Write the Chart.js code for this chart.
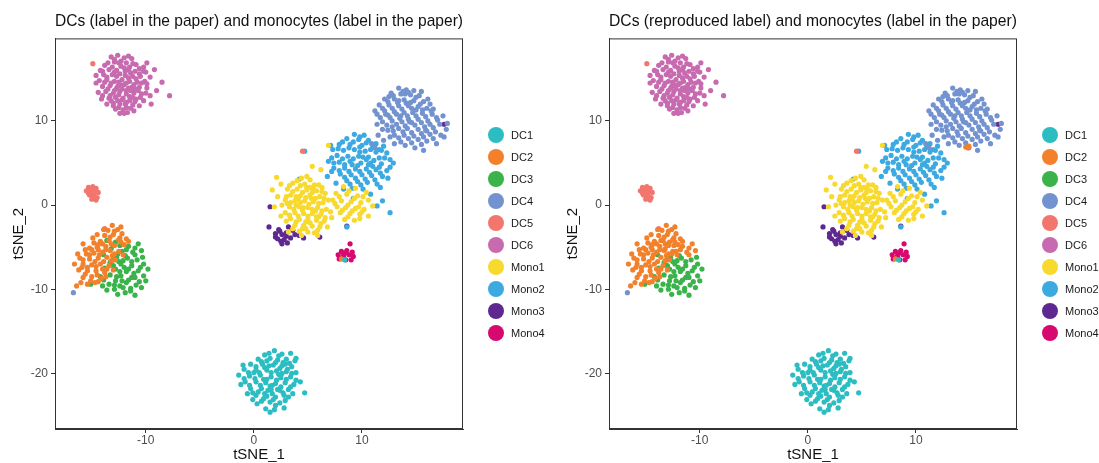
<!DOCTYPE html>
<html>
<head>
<meta charset="utf-8">
<script src="https://cdn.jsdelivr.net/npm/chart.js@4.4.1/dist/chart.umd.min.js"></script>
<style>
  body { margin: 0; background: #fff; }
  #wrap { position: relative; width: 1099px; height: 463px; overflow: hidden; }
  #leftBox { position: absolute; left: 0; top: 0; }
  #rightBox { position: absolute; left: 554px; top: 0; }
</style>
</head>
<body>
<div id="wrap">
  <div id="leftBox"><canvas id="paper" width="549" height="463"></canvas></div>
  <div id="rightBox"><canvas id="reproduced" width="545" height="463"></canvas></div>
</div>
<script>
// cell groups and colours
var groups = ['DC1', 'DC2', 'DC3', 'DC4', 'DC5', 'DC6', 'Mono1', 'Mono2', 'Mono3', 'Mono4'];
var colors = ['#2bbdc2', '#f3802a', '#39b34a', '#7392d0', '#f2766e', '#c86ab0', '#f8d92e', '#3caae0', '#5f2891', '#d7086f'];

// tSNE coordinates [tSNE_1, tSNE_2]
var dc1 = [[1.9,-17.3],[1.0,-17.8],[2.6,-17.7],[3.4,-17.6],[0.4,-18.3],[1.5,-18.2],[2.2,-18.4],[3.0,-18.3],[3.8,-18.5],[-0.3,-18.9],[0.8,-18.9],[1.8,-19.0],[2.6,-19.1],[3.5,-19.2],[-0.9,-19.5],[0.2,-19.6],[1.2,-19.6],[2.1,-19.7],[3.0,-19.8],[3.9,-19.9],[-1.4,-20.2],[-0.4,-20.3],[0.6,-20.2],[1.6,-20.4],[2.5,-20.5],[3.4,-20.4],[-0.8,-21.0],[0.2,-21.0],[1.1,-21.1],[2.0,-21.2],[2.9,-21.1],[3.7,-21.3],[-0.3,-21.8],[0.7,-21.8],[1.6,-21.9],[2.4,-22.0],[3.2,-21.9],[4.7,-22.3],[0.2,-22.6],[1.2,-22.7],[2.0,-22.8],[2.8,-22.6],[0.7,-23.3],[1.5,-23.4],[2.4,-23.5],[1.1,-24.2],[2.8,-24.1],[1.3,-22.0],[2.3,-20.1],[1.4,-19.1],[0.0,-19.9],[3.2,-22.8],[1.7,-21.4],[0.9,-20.7],[2.7,-18.7],[-0.1,-22.3],[1.9,-24.3],
  [1.4,-17.6],[2.3,-17.9],[0.7,-18.6],[1.2,-18.5],[2.0,-18.7],[2.9,-18.9],[3.3,-18.8],[0.2,-19.2],[1.0,-19.3],[2.4,-19.4],[3.1,-19.5],[-0.5,-19.9],[0.5,-19.9],[1.6,-19.9],[2.6,-20.0],[3.5,-20.0],[-0.9,-20.6],[0.1,-20.6],[1.2,-20.7],[2.1,-20.8],[3.0,-20.7],[3.9,-20.8],[-1.2,-21.3],[-0.4,-21.4],[0.6,-21.4],[1.5,-21.5],[2.5,-21.6],[3.4,-21.6],[-0.6,-22.4],[0.4,-22.2],[1.7,-22.4],[2.7,-22.3],[3.6,-22.4],[0.9,-23.0],[1.8,-23.1],[2.9,-23.2],[0.3,-23.6],[2.0,-23.8],[1.5,-24.6],[1.0,-22.4],[2.2,-21.9],[-1.0,-19.0],[3.9,-18.2],[4.3,-21.0],[-0.1,-23.1],[8.4,-6.5]];
var dc2 = [[-13.1,-2.4],[-12.6,-2.9],[-13.5,-3.0],[-12.2,-3.4],[-13.0,-3.5],[-13.8,-3.6],[-11.8,-4.0],[-12.5,-4.1],[-13.4,-4.2],[-14.2,-4.3],[-14.8,-4.5],[-12.0,-4.7],[-12.9,-4.8],[-13.7,-4.9],[-14.5,-5.0],[-15.2,-5.1],[-15.8,-4.6],[-13.3,-5.4],[-14.0,-5.6],[-14.8,-5.7],[-15.5,-5.8],[-12.5,-5.5],[-16.1,-6.3],[-15.2,-6.4],[-14.4,-6.3],[-13.6,-6.2],[-12.8,-6.5],[-15.8,-7.0],[-15.0,-7.1],[-14.2,-7.0],[-13.4,-7.2],[-16.2,-7.7],[-15.4,-7.8],[-14.6,-7.8],[-13.8,-8.0],[-15.0,-8.5],[-14.1,-8.7],[-15.8,-8.6],[-16.0,-9.2],[-16.4,-9.6],[-14.7,-9.2],[-11.6,-4.3],[-12.1,-5.9],[-13.0,-7.7],[-14.9,-3.9],[-15.6,-5.3],[-14.5,-3.5],[-13.9,-2.9],[-12.3,-2.6],[-15.9,-7.4],[-14.4,-5.3],[-13.1,-6.0],[-14.0,-7.6],[-16.3,-5.8],[-15.1,-9.0],
  [-12.9,-3.1],[-13.3,-3.8],[-12.3,-4.4],[-14.0,-4.6],[-13.2,-4.6],[-14.4,-4.7],[-15.0,-5.3],[-13.7,-5.3],[-12.9,-5.8],[-14.3,-5.9],[-15.2,-5.9],[-15.8,-6.5],[-14.7,-6.7],[-13.9,-6.7],[-13.2,-6.6],[-15.4,-7.4],[-14.6,-7.3],[-13.6,-7.6],[-15.6,-8.2],[-14.5,-8.3],[-13.7,-8.5],[-15.4,-9.4],[-14.4,-9.1],[-16.6,-7.0],[-12.4,-3.9],[8.1,-6.4]];
// DC3 cells that are labelled DC2 in the reproduced clustering
var dc3Upper = [[-13.6,-4.2],[-12.8,-4.4],[-11.6,-4.9],[-10.7,-4.6],[-13.2,-5.2],[-12.2,-5.5],[-11.2,-5.6],[-10.4,-5.4],[-12.6,-5.8],[-11.0,-5.9],[-12.4,-4.8],[-11.0,-5.1],[-13.0,-4.8],[-11.8,-5.3]];
var dc3Lower = [[-13.9,-5.9],[-12.7,-6.2],[-11.7,-6.3],[-10.8,-6.5],[-10.2,-7.0],[-13.3,-6.8],[-12.3,-7.0],[-11.3,-7.2],[-13.8,-7.5],[-12.8,-7.6],[-11.8,-7.9],[-10.7,-7.8],[-10.2,-8.4],[-13.3,-8.3],[-12.3,-8.4],[-11.3,-8.6],[-14.2,-8.5],[-12.8,-9.0],[-11.8,-9.2],[-10.6,-9.1],[-13.4,-9.4],[-12.4,-9.6],[-11.4,-9.9],[-10.4,-9.8],[-12.9,-10.0],[-11.9,-10.4],[-15.1,-9.4],[-14.0,-9.6],[-12.0,-7.4],[-11.1,-8.1],[-12.2,-9.0],[-13.6,-10.1],[-11.0,-10.7],[-12.5,-6.7],
  [-13.0,-6.5],[-12.1,-6.6],[-11.3,-6.7],[-10.5,-7.4],[-13.0,-7.2],[-11.6,-7.6],[-12.4,-7.9],[-11.0,-8.6],[-12.7,-8.5],[-11.6,-8.9],[-10.9,-9.5],[-12.1,-9.8],[-12.9,-9.5],[-11.4,-10.2],[-13.9,-8.9],[-10.0,-9.0],[-9.8,-7.6],[-12.6,-10.6],[-11.9,-6.0],[-10.3,-6.2]];
var dc4 = [[13.4,13.9],[14.1,13.7],[14.8,13.6],[12.7,13.3],[13.6,13.2],[14.5,13.1],[15.3,13.0],[12.1,12.6],[13.0,12.6],[13.9,12.5],[14.8,12.4],[15.7,12.3],[16.3,12.0],[11.6,11.9],[12.5,11.9],[13.4,11.8],[14.3,11.8],[15.2,11.7],[16.0,11.5],[11.2,11.2],[12.1,11.2],[13.0,11.1],[13.9,11.0],[14.7,11.0],[15.6,10.9],[16.5,10.8],[11.7,10.4],[12.6,10.4],[13.5,10.3],[14.3,10.2],[15.2,10.2],[16.1,10.0],[17.0,10.1],[11.4,9.6],[12.3,9.5],[13.2,9.6],[14.0,9.4],[14.9,9.5],[15.8,9.3],[16.6,9.2],[17.8,9.0],[12.9,8.8],[13.8,8.7],[14.6,8.6],[15.5,8.5],[16.3,8.4],[17.3,8.3],[13.4,8.0],[14.3,7.9],[15.2,7.8],[16.0,7.6],[16.9,7.3],[14.0,7.1],[14.9,6.8],[15.7,6.5],[12.0,7.7],[11.5,8.3],[10.9,7.3],[11.2,6.8],[13.0,7.3],[17.5,10.6],[17.9,9.7],[14.1,12.1],[15.0,11.3],[13.6,10.6],[14.4,9.9],[15.9,8.9],[12.8,10.0],[16.6,11.4],[15.5,13.5],[14.0,13.2],[13.3,12.2],[12.2,10.8],
  [13.8,13.5],[12.9,13.0],[14.3,13.4],[15.0,12.8],[12.4,12.3],[13.4,12.4],[14.5,12.2],[15.4,12.0],[11.9,11.5],[12.8,11.5],[13.7,11.4],[14.6,11.5],[15.6,11.3],[16.4,11.2],[11.4,10.8],[12.4,10.7],[13.2,10.8],[14.2,10.6],[15.0,10.6],[15.9,10.5],[16.9,10.4],[11.9,9.9],[12.8,9.3],[13.7,9.9],[14.6,9.8],[15.5,9.8],[16.3,9.6],[17.2,9.6],[12.4,8.9],[13.4,9.1],[14.2,9.1],[15.2,9.0],[16.0,8.8],[16.8,8.7],[13.0,8.3],[13.9,8.3],[14.8,8.2],[15.7,8.1],[16.6,7.9],[13.6,7.5],[14.6,7.4],[15.5,7.2],[12.6,8.1],[11.9,9.0],[17.6,8.1],[16.1,12.6],[12.5,12.9],[-16.7,-10.4]];
var dc5 = [[-15.3,2.1],[-14.9,2.2],[-14.6,2.0],[-15.5,1.7],[-15.1,1.6],[-14.7,1.7],[-14.4,1.5],[-15.2,1.2],[-14.8,1.1],[-14.5,0.9],[-15.0,0.7],[-14.6,0.6],[-15.0,1.9],[-14.8,1.4],[-15.3,1.4],[-14.9,0.9],[-14.9,16.8],[-13.8,-2.8],[4.5,6.4]];
var dc6 = [[-13.2,17.6],[-12.6,17.8],[-12.0,17.5],[-11.3,17.4],[-12.9,17.0],[-11.8,16.9],[-10.9,16.7],[-13.8,16.6],[-12.3,16.5],[-10.2,16.4],[-14.2,16.0],[-13.4,16.1],[-12.7,16.0],[-11.6,16.1],[-11.0,15.9],[-10.0,15.8],[-14.6,15.4],[-13.9,15.5],[-13.1,15.5],[-12.4,15.6],[-11.9,15.4],[-11.2,15.3],[-10.5,15.3],[-9.6,15.2],[-14.3,14.8],[-13.6,14.9],[-12.9,14.7],[-12.2,14.9],[-11.5,14.7],[-10.8,14.6],[-10.1,14.7],[-14.0,14.1],[-13.3,14.2],[-12.6,14.1],[-12.0,14.3],[-11.3,14.0],[-10.6,14.0],[-9.9,13.9],[-9.0,13.6],[-7.8,13.0],[-14.4,13.4],[-13.7,13.5],[-13.0,13.3],[-12.4,13.5],[-11.8,13.6],[-11.1,13.3],[-10.4,13.2],[-13.4,12.7],[-12.8,12.8],[-12.1,12.7],[-11.5,12.9],[-10.9,12.6],[-10.2,12.4],[-13.0,12.1],[-12.4,12.0],[-11.8,12.2],[-11.2,11.9],[-10.6,11.8],[-12.8,11.4],[-12.1,11.3],[-11.4,11.5],[-12.4,10.9],[-11.7,11.0],[-13.6,12.0],[-9.5,12.0],[-12.7,13.9],[-11.6,13.9],[-12.2,12.5],[-11.9,15.9],[-12.5,14.6],[-11.0,13.8],[-13.2,14.5],[-10.2,15.9],[-9.2,16.1],[-11.5,12.4],
  [-12.9,17.3],[-11.6,17.7],[-12.3,17.1],[-13.5,16.9],[-11.2,16.8],[-10.6,16.2],[-12.0,16.3],[-13.1,16.4],[-14.0,15.9],[-12.9,15.8],[-11.4,15.7],[-10.6,15.6],[-13.6,15.2],[-12.7,15.3],[-11.6,15.1],[-10.9,15.0],[-9.9,14.4],[-14.6,14.5],[-13.8,14.6],[-12.4,14.3],[-11.8,14.5],[-11.1,14.3],[-10.4,14.5],[-13.5,13.8],[-12.9,13.6],[-12.2,13.8],[-11.4,13.6],[-10.7,13.6],[-10.0,13.3],[-14.0,13.0],[-13.3,13.0],[-12.5,13.1],[-11.8,13.2],[-11.2,12.8],[-10.5,12.8],[-13.2,12.4],[-12.6,12.4],[-11.9,12.0],[-11.0,12.3],[-12.5,11.6],[-11.8,11.6],[-11.1,11.2],[-12.0,10.9],[-13.0,11.8],[-14.1,12.6],[-8.5,14.6],[-9.6,13.0],[-11.5,16.4],[-12.5,16.9],[-9.9,16.9]];
var mono1 = [[4.4,3.2],[5.2,3.0],[3.6,2.6],[4.7,2.5],[5.6,2.4],[6.3,2.1],[3.1,1.9],[4.0,1.9],[4.9,1.8],[5.8,1.7],[6.6,1.4],[3.4,1.2],[4.3,1.1],[5.2,1.2],[6.1,1.0],[2.9,0.6],[3.8,0.5],[4.7,0.5],[5.5,0.4],[6.4,0.3],[3.3,-0.2],[4.2,-0.2],[5.0,-0.3],[5.9,-0.3],[6.7,-0.5],[2.9,-0.9],[3.8,-0.9],[4.6,-1.0],[5.4,-1.0],[6.2,-1.1],[3.4,-1.6],[4.2,-1.7],[5.0,-1.7],[5.8,-1.8],[6.5,-1.9],[3.8,-2.4],[4.6,-2.4],[5.4,-2.5],[6.1,-2.6],[4.2,-3.1],[5.0,-3.2],[5.9,-3.0],[4.5,-0.6],[5.3,0.8],[3.9,0.0],[6.0,-1.4],[4.8,-2.0],[5.5,1.9],[3.1,0.2],[2.1,3.3],[5.4,4.6],[1.9,-0.2],[1.7,1.8],[5.9,-3.6],[2.5,-1.3],[2.2,1.0],[6.9,0.6],[7.2,-1.5],[3.2,-3.2],[4.9,2.1],[4.1,0.7],[5.7,-0.7],[6.9,7.1],
  [4.0,2.9],[4.9,3.4],[3.3,2.3],[4.3,2.3],[5.2,2.1],[6.0,2.4],[3.6,1.6],[4.5,1.5],[5.4,1.5],[6.3,1.6],[3.0,1.0],[3.9,1.0],[4.8,0.9],[5.7,0.8],[6.5,0.8],[3.4,0.3],[4.3,0.3],[5.1,0.1],[6.0,0.2],[3.7,-0.5],[4.6,-0.3],[5.4,-0.5],[6.3,-0.7],[3.3,-1.2],[4.1,-1.3],[5.0,-1.3],[5.8,-1.4],[6.6,-1.5],[3.0,-1.9],[3.9,-2.0],[4.5,-2.8],[5.2,-2.1],[6.2,-2.2],[4.8,-2.8],[5.6,-3.3],[3.6,-2.8],[2.6,0.0],[2.5,2.5],[6.8,-2.6],[4.4,-3.6],
  [8.3,2.2],[9.4,2.0],[7.6,1.4],[8.6,1.3],[9.6,1.1],[10.4,1.5],[7.3,0.6],[8.1,0.5],[9.0,0.4],[9.9,0.3],[10.6,0.6],[7.7,-0.2],[8.5,-0.3],[9.4,-0.4],[10.2,-0.5],[8.0,-0.9],[8.9,-1.0],[9.8,-1.1],[10.6,-1.3],[8.4,-1.7],[9.3,-1.8],[7.1,-0.8],[11.0,-0.1],[6.2,4.2],
  [8.8,1.7],[7.9,1.0],[9.3,0.8],[10.1,1.0],[7.5,0.2],[8.7,0.0],[9.7,-0.2],[8.2,-0.6],[9.1,-0.7],[10.0,-0.8],[8.7,-1.4],[9.8,-1.6]];
var mono2 = [[9.3,8.4],[10.2,8.3],[8.6,7.9],[9.7,7.8],[10.6,7.7],[11.3,7.3],[7.9,7.2],[8.9,7.2],[10.0,7.1],[11.0,6.9],[12.0,7.0],[7.3,6.6],[8.3,6.5],[9.3,6.6],[10.3,6.4],[11.3,6.3],[12.3,6.2],[7.7,5.9],[8.7,5.8],[9.7,5.8],[10.6,5.7],[11.6,5.6],[12.6,5.4],[6.9,5.2],[7.9,5.1],[8.9,5.2],[9.9,5.0],[10.8,5.0],[11.8,4.9],[7.4,4.4],[8.4,4.4],[9.4,4.3],[10.4,4.3],[11.3,4.2],[12.3,4.1],[8.0,3.7],[9.0,3.6],[10.0,3.6],[10.9,3.5],[11.9,3.4],[8.6,2.9],[9.6,2.8],[10.5,2.7],[11.4,2.5],[9.1,2.0],[10.1,1.9],[6.8,3.4],[7.6,2.6],[12.9,5.0],[10.4,5.4],[9.1,4.8],[11.0,4.6],[9.8,6.9],[12.4,3.2],[8.3,1.9],[10.8,1.3],
  [9.8,8.1],[8.2,7.5],[9.2,7.5],[10.4,7.4],[11.6,6.6],[7.8,6.7],[8.8,6.8],[9.8,6.3],[10.8,6.6],[11.8,6.5],[7.2,5.6],[8.2,5.5],[9.2,5.5],[10.1,5.7],[11.1,5.3],[12.1,5.6],[7.4,5.0],[8.4,4.8],[9.6,4.7],[10.6,4.8],[11.6,4.5],[12.6,4.5],[7.9,4.1],[8.8,4.0],[9.8,4.0],[10.7,3.9],[11.7,3.8],[8.4,3.3],[9.4,3.2],[10.3,3.1],[11.2,3.0],[9.9,2.4],[8.9,2.5],[7.2,4.0],[11.7,2.1],
  [4.7,6.4],[7.1,7.1],[11.9,0.5],[11.4,-0.1],[9.2,0.8],[4.2,3.1],[8.6,-2.6],[12.6,-0.9]];
var mono3 = [[1.5,-0.2],[1.4,-2.6],[2.3,-2.9],[3.2,-2.6],[3.6,-3.0],[2.0,-3.4],[2.6,-3.5],[3.0,-3.3],[2.2,-4.0],[2.8,-4.1],[3.4,-3.9],[4.2,-3.6],[4.6,-3.9],[3.1,-4.5],[2.5,-4.3],[2.4,-3.1],[3.0,-3.7],[2.0,-3.8],[3.8,-3.5],[2.6,-4.6],[6.1,-3.8],[8.6,-2.5],[17.6,9.6]];
var mono4 = [[8.9,-4.6],[8.1,-5.5],[8.6,-5.4],[7.8,-5.9],[8.3,-6.0],[8.8,-5.9],[9.2,-6.1],[7.9,-6.4],[8.5,-6.5],[9.0,-6.5],[8.4,-5.7],[9.1,-5.6],[8.2,-6.2]];
// DC4-area cells labelled DC2 in the reproduced clustering
var dc2Extra = [[14.6,6.9],[14.9,7.0],[14.8,6.8]];

var xTicks = [-10, 0, 10];
var yTicks = [-20, -10, 0, 10];

var paperGroups = [dc1, dc2, dc3Upper.concat(dc3Lower), dc4, dc5, dc6, mono1, mono2, mono3, mono4];
var reproducedGroups = [dc1, dc2.concat(dc3Upper, dc2Extra), dc3Lower, dc4, dc5, dc6, mono1, mono2, mono3, mono4];

var fontFamily = '"Liberation Sans", Arial, sans-serif';

// box around the panel plus the legend on the right
var panelExtras = {
  id: 'panelExtras',
  afterDraw(chart) {
    const ctx = chart.ctx;
    const area = chart.chartArea;
    ctx.save();
    ctx.strokeStyle = '#333333';
    ctx.lineWidth = 1;
    ctx.strokeRect(area.left + 0.5, area.top + 0.5, area.right - area.left - 1, area.bottom - area.top - 1);

    ctx.font = '11px ' + fontFamily;
    ctx.textBaseline = 'middle';
    ctx.textAlign = 'left';
    groups.forEach((name, i) => {
      const cy = 135 + i * 22;
      ctx.fillStyle = colors[i];
      ctx.beginPath();
      ctx.arc(area.right + 33, cy, 8, 0, Math.PI * 2);
      ctx.fill();
      ctx.fillStyle = '#1a1a1a';
      ctx.fillText(name, area.right + 48, cy + 1);
    });
    ctx.restore();
  }
};

function makePanel(canvasId, title, sets, rightPad) {
  const ctx = document.getElementById(canvasId).getContext('2d');
  return new Chart(ctx, {
    type: 'scatter',
    data: {
      datasets: sets.map((pts, i) => ({
        label: groups[i],
        data: pts.map(p => ({ x: p[0], y: p[1] })),
        backgroundColor: colors[i],
        borderWidth: 0,
        pointRadius: 2.6,
        pointHoverRadius: 2.6
      }))
    },
    options: {
      responsive: false,
      animation: false,
      layout: { padding: { left: 0, right: rightPad, top: 0, bottom: 0 } },
      plugins: {
        legend: { display: false },
        tooltip: { enabled: false },
        title: {
          display: true,
          text: title,
          align: 'start',
          fullSize: false,
          color: '#111',
          font: { family: fontFamily, size: 17, weight: 'normal' },
          padding: { top: 11, bottom: 7 }
        }
      },
      scales: {
        x: {
          min: -18.4,
          max: 19.35,
          afterBuildTicks: s => { s.ticks = xTicks.map(v => ({ value: v })); },
          afterFit: s => { s.height = 34; },
          grid: { display: true, drawOnChartArea: false, drawTicks: true, tickLength: 4, color: '#333333' },
          border: { display: true, color: '#333333' },
          ticks: { color: '#4d4d4d', padding: 0, font: { family: fontFamily, size: 12 } },
          title: { display: true, text: 'tSNE_1', color: '#111', padding: { top: 0, bottom: 0 }, font: { family: fontFamily, size: 15, lineHeight: 1.05 } }
        },
        y: {
          min: -26.6,
          max: 19.8,
          afterBuildTicks: s => { s.ticks = yTicks.map(v => ({ value: v })); },
          afterFit: s => { s.width = 55; },
          grid: { display: true, drawOnChartArea: false, drawTicks: true, tickLength: 4, color: '#333333' },
          border: { display: true, color: '#333333' },
          ticks: { color: '#4d4d4d', padding: 3, font: { family: fontFamily, size: 12 } },
          title: { display: true, text: 'tSNE_2', color: '#111', padding: { top: 10, bottom: 0 }, font: { family: fontFamily, size: 15 } }
        }
      }
    },
    plugins: [panelExtras]
  });
}

makePanel('paper', 'DCs (label in the paper) and monocytes (label in the paper)', paperGroups, 86);
makePanel('reproduced', 'DCs (reproduced label) and monocytes (label in the paper)', reproducedGroups, 82);
</script>
</body>
</html>
